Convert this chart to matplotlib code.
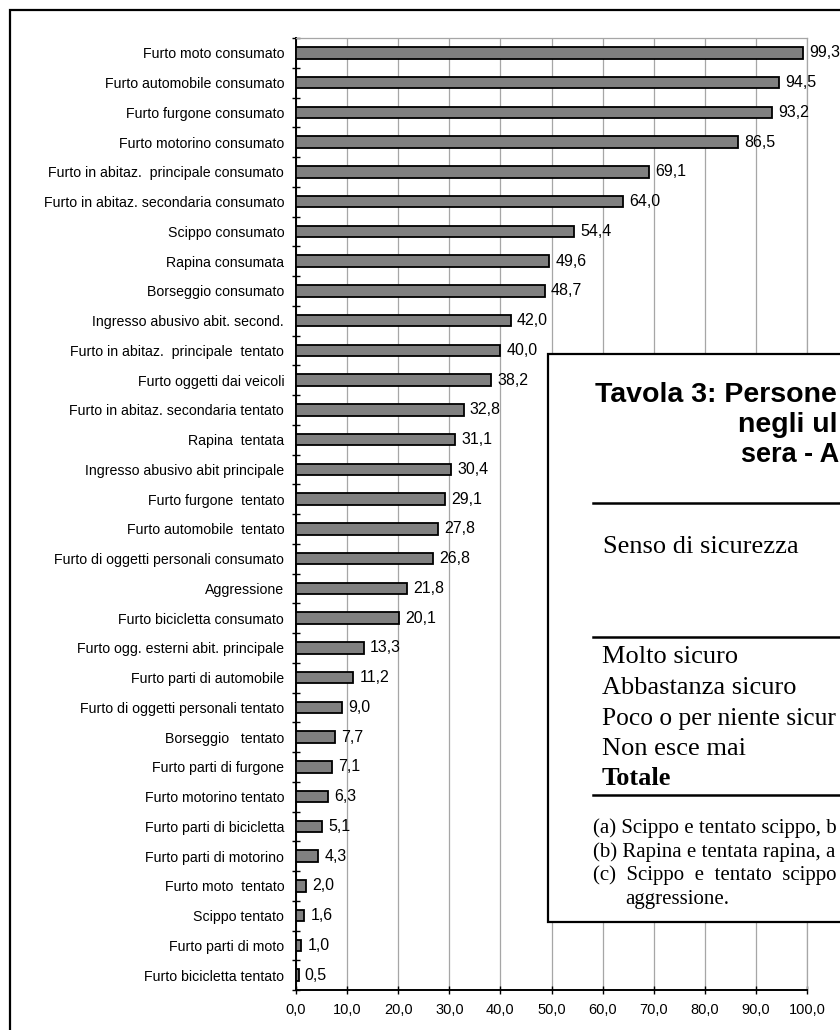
import matplotlib
matplotlib.use("Agg")
import matplotlib.pyplot as plt
from matplotlib.patches import Rectangle
from matplotlib.lines import Line2D

categories = [
    "Furto moto consumato",
    "Furto automobile consumato",
    "Furto furgone consumato",
    "Furto motorino consumato",
    "Furto in abitaz.  principale consumato",
    "Furto in abitaz. secondaria consumato",
    "Scippo consumato",
    "Rapina consumata",
    "Borseggio consumato",
    "Ingresso abusivo abit. second.",
    "Furto in abitaz.  principale  tentato",
    "Furto oggetti dai veicoli",
    "Furto in abitaz. secondaria tentato",
    "Rapina  tentata",
    "Ingresso abusivo abit principale",
    "Furto furgone  tentato",
    "Furto automobile  tentato",
    "Furto di oggetti personali consumato",
    "Aggressione",
    "Furto bicicletta consumato",
    "Furto ogg. esterni abit. principale",
    "Furto parti di automobile",
    "Furto di oggetti personali tentato",
    "Borseggio   tentato",
    "Furto parti di furgone",
    "Furto motorino tentato",
    "Furto parti di bicicletta",
    "Furto parti di motorino",
    "Furto moto  tentato",
    "Scippo tentato",
    "Furto parti di moto",
    "Furto bicicletta tentato",
]
values = [99.3, 94.5, 93.2, 86.5, 69.1, 64.0, 54.4, 49.6, 48.7, 42.0, 40.0,
          38.2, 32.8, 31.1, 30.4, 29.1, 27.8, 26.8, 21.8, 20.1, 13.3, 11.2,
          9.0, 7.7, 7.1, 6.3, 5.1, 4.3, 2.0, 1.6, 1.0, 0.5]
x_ticks = [0, 10, 20, 30, 40, 50, 60, 70, 80, 90, 100]

# visible (cropped) parts of the overlapping table
title_lines = ["Tavola 3: Persone", "negli ul", "sera - A"]
header = "Senso di sicurezza"
rows = ["Molto sicuro", "Abbastanza sicuro", "Poco o per niente sicur", "Non esce mai"]
total_label = "Totale"
notes = ["(a) Scippo e tentato scippo, b",
         "(b) Rapina e tentata rapina, a",
         "(c)  Scippo  e  tentato  scippo"]
note_cont = "aggressione."

W, H = 840, 1030
fig = plt.figure(figsize=(W / 100, H / 100), dpi=100)
plt.rcParams['font.family'] = ['Liberation Sans', 'DejaVu Sans']


def fx(px):
    return px / W


def fy(py):
    return 1 - py / H


x0, x1 = 296, 807
ytop, ybot = 38, 990
ax = fig.add_axes([fx(x0), fy(ybot), fx(x1) - fx(x0), (ybot - ytop) / H])

pos = list(range(len(categories)))
ax.barh(pos, values, height=0.38, color="#808080", edgecolor="black",
        linewidth=1.3, zorder=3)
for p, v in zip(pos, values):
    ax.annotate(f"{v:.1f}".replace(".", ","), xy=(v, p), xytext=(4.5, 0),
                textcoords="offset points", va="center", ha="left",
                fontsize=11.5, zorder=4)

ax.set_xlim(0, 100)
ax.set_ylim(len(categories) - 0.5, -0.5)
ax.set_xticks(x_ticks)
ax.set_xticklabels([f"{t:.1f}".replace(".", ",") for t in x_ticks], fontsize=10.5)
ax.set_yticks(pos)
ax.set_yticklabels(categories, fontsize=10.2)
ax.set_yticks([p - 0.5 for p in pos] + [len(pos) - 0.5], minor=True)
ax.tick_params(axis="y", which="major", length=0, pad=8.5)
ax.tick_params(axis="y", which="minor", direction="inout", length=6, width=1)
ax.tick_params(axis="x", which="major", direction="inout", length=6, width=1, pad=6)
ax.xaxis.grid(True, color="#a6a6a6", linewidth=0.9, zorder=0)
ax.set_axisbelow(True)
for s in ["top", "right"]:
    ax.spines[s].set_color("#a6a6a6")
    ax.spines[s].set_linewidth(0.9)
for s in ["left", "bottom"]:
    ax.spines[s].set_color("black")
    ax.spines[s].set_linewidth(1.4)

# outer frame
fig.add_artist(Rectangle((fx(10), fy(1100)), fx(900), (1100 - 10) / H,
                         transform=fig.transFigure, fill=False,
                         edgecolor="black", linewidth=1.6, zorder=1))

# overlapping table box
bl, bt, bb = 548, 354, 922
fig.add_artist(Rectangle((fx(bl), fy(bb)), fx(400), (bb - bt) / H,
                         transform=fig.transFigure, facecolor="white",
                         edgecolor="black", linewidth=1.6, zorder=5))

tkw = dict(transform=fig.transFigure, zorder=6, clip_on=False)
fig.text(fx(595), fy(402), title_lines[0], fontsize=20.5, fontweight="bold",
         family="Liberation Sans", va="baseline", ha="left", **tkw)
fig.text(fx(738), fy(432), title_lines[1], fontsize=20.5, fontweight="bold",
         family="Liberation Sans", va="baseline", ha="left", **tkw)
fig.text(fx(741), fy(462), title_lines[2], fontsize=19.5, fontweight="bold",
         family="Liberation Sans", va="baseline", ha="left", **tkw)

for yy in [503, 637, 795]:
    fig.add_artist(Line2D([fx(593), fx(900)], [fy(yy), fy(yy)],
                          transform=fig.transFigure, color="black",
                          linewidth=1.8, zorder=6))

fig.text(fx(603), fy(553), header, fontsize=19, family="Liberation Serif",
         va="baseline", ha="left", **tkw)
row_y = [663, 694, 725, 755]
row_fs = [19, 19, 18.4, 19]
for r, yy, fs in zip(rows, row_y, row_fs):
    fig.text(fx(602), fy(yy), r, fontsize=fs, family="Liberation Serif",
             va="baseline", ha="left", **tkw)
fig.text(fx(602), fy(785), total_label, fontsize=19, fontweight="bold",
         family="Liberation Serif", va="baseline", ha="left", **tkw)

note_y = [833, 857, 880]
for n, yy in zip(notes, note_y):
    fig.text(fx(593), fy(yy), n, fontsize=15.0, family="Liberation Serif",
             va="baseline", ha="left", **tkw)
fig.text(fx(625), fy(904), note_cont, fontsize=15.0, family="Liberation Serif",
         va="baseline", ha="left", **tkw)

fig.savefig("out.png", dpi=100)
